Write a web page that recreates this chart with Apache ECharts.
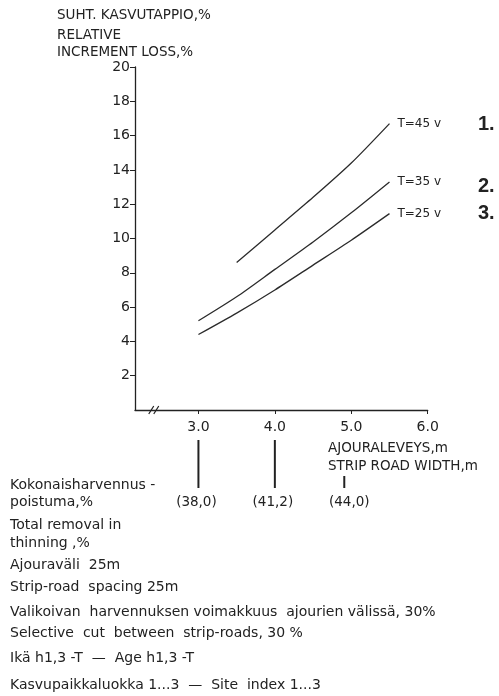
<!DOCTYPE html>
<html>
<head>
<meta charset="utf-8">
<script src="https://cdn.jsdelivr.net/npm/echarts@6/dist/echarts.min.js"></script>
<style>
html,body{margin:0;padding:0;background:#fff;}
#chart{width:499px;height:696px;}
</style>
</head>
<body>
<div id="chart"></div>
<script>
// ajouraleveys (m)
var widthX = [3.0, 3.5, 4.0, 4.5, 5.0, 5.5];
// suhteellinen kasvutappio %, ikä T
var lossT45 = [null, 8.6, 10.5, 12.4, 14.4, 16.7];
var lossT35 = [5.2, 6.6, 8.2, 9.8, 11.5, 13.3];
var lossT25 = [4.4, 5.65, 7.0, 8.45, 9.9, 11.45];
var seriesNames = ['T=45 v', 'T=35 v', 'T=25 v'];
var seriesNums = ['1.', '2.', '3.'];
var xTicks = [3.0, 4.0, 5.0, 6.0];
var yTicks = [2, 4, 6, 8, 10, 12, 14, 16, 18, 20];
// kokonaisharvennuspoistuma
var removalX = [3.0, 4.0, 5.0];
var removalLabels = ['(38,0)', '(41,2)', '(44,0)'];

var FONT = 'DejaVu Sans';
var INK = '#222';

function pairs(ys) {
    var out = [];
    for (var i = 0; i < widthX.length; i++) {
        if (ys[i] != null) out.push([widthX[i], ys[i]]);
    }
    return out;
}

var myChart = echarts.init(document.getElementById('chart'));

function lineSeries(name, ys) {
    return {
        name: name,
        type: 'line',
        smooth: 0.25,
        symbol: 'none',
        data: pairs(ys),
        lineStyle: {color: '#2b2b2b', width: 1.3},
        endLabel: {
            show: true,
            formatter: '{a}',
            distance: 8,
            color: INK,
            fontFamily: FONT,
            fontSize: 12
        },
        silent: true
    };
}

var option = {
    backgroundColor: '#fff',
    animation: false,
    grid: {left: 135, top: 67, width: 292.7, height: 343},
    xAxis: {
        type: 'value',
        min: 2.17,
        max: 6,
        axisLine: {show: true, lineStyle: {color: '#222', width: 1.3}},
        axisTick: {show: true, customValues: xTicks, length: 4, lineStyle: {color: '#222'}},
        axisLabel: {
            customValues: xTicks,
            formatter: function (v) { return v.toFixed(1); },
            color: INK, fontFamily: FONT, fontSize: 14, margin: 10
        },
        splitLine: {show: false}
    },
    yAxis: {
        type: 'value',
        min: 0,
        max: 20,
        interval: 2,
        axisLine: {show: true, lineStyle: {color: '#222', width: 1.3}},
        axisTick: {show: true, customValues: yTicks, length: 5, lineStyle: {color: '#222'}},
        axisLabel: {
            customValues: yTicks,
            color: INK, fontFamily: FONT, fontSize: 14, margin: 5
        },
        splitLine: {show: false}
    },
    series: [
        lineSeries(seriesNames[0], lossT45),
        lineSeries(seriesNames[1], lossT35),
        lineSeries(seriesNames[2], lossT25)
    ]
};
myChart.setOption(option, true);

// lisätekstit ja merkinnät
(function () {
    var baseY = myChart.convertToPixel({yAxisIndex: 0}, 0);
    var g = [];
    function txt(x, y, s, size, align, font) {
        g.push({
            type: 'text', x: x, y: y, silent: true,
            style: {
                text: s, fill: INK,
                font: font || ((size || 13) + 'px "' + FONT + '"'),
                align: align || 'left',
                verticalAlign: 'middle'
            }
        });
    }

    txt(57, 15, 'SUHT. KASVUTAPPIO,%', 13.5);
    txt(57, 35, 'RELATIVE', 13.5);
    txt(57, 52, 'INCREMENT LOSS,%', 13.5);

    // katkomerkki
    var bx = myChart.convertToPixel({xAxisIndex: 0}, 2.35);
    g.push({type: 'line', silent: true, shape: {x1: bx, y1: baseY + 4, x2: bx + 5, y2: baseY - 4}, style: {stroke: '#222', lineWidth: 1.2}});
    g.push({type: 'line', silent: true, shape: {x1: bx + 5, y1: baseY + 4, x2: bx + 10, y2: baseY - 4}, style: {stroke: '#222', lineWidth: 1.2}});

    // sarjojen numerot
    var numY = [124, 186, 213];
    for (var i = 0; i < seriesNums.length; i++) {
        txt(478, numY[i], seriesNums[i], 20, 'left', 'bold 20px "Liberation Sans"');
    }

    txt(328, 448, 'AJOURALEVEYS,m', 13.5);
    txt(328, 466, 'STRIP ROAD WIDTH,m', 13.5);

    // poistuma-arvot
    for (var j = 0; j < removalX.length; j++) {
        var rx = myChart.convertToPixel({xAxisIndex: 0}, removalX[j]);
        var barX = j === 2 ? rx - 7 : rx;
        var barTop = j === 2 ? 476 : 440;
        g.push({type: 'line', silent: true, shape: {x1: barX, y1: barTop, x2: barX, y2: 488}, style: {stroke: '#222', lineWidth: 2}});
        txt(rx - 2, 502, removalLabels[j], 13.5, 'center');
    }

    txt(10, 485, 'Kokonaisharvennus -', 14);
    txt(10, 502, 'poistuma,%', 14);
    txt(10, 525, 'Total removal in', 14);
    txt(10, 543, 'thinning ,%', 14);
    txt(10, 565, 'Ajouraväli  25m', 14);
    txt(10, 587, 'Strip-road  spacing 25m', 14);
    txt(10, 612, 'Valikoivan  harvennuksen voimakkuus  ajourien välissä, 30%', 14);
    txt(10, 633, 'Selective  cut  between  strip-roads, 30 %', 14);
    txt(10, 658, 'Ikä h1,3 -T  —  Age h1,3 -T', 14);
    txt(10, 685, 'Kasvupaikkaluokka 1...3  —  Site  index 1...3', 14);

    myChart.setOption({graphic: {elements: g}});
})();
</script>
</body>
</html>
